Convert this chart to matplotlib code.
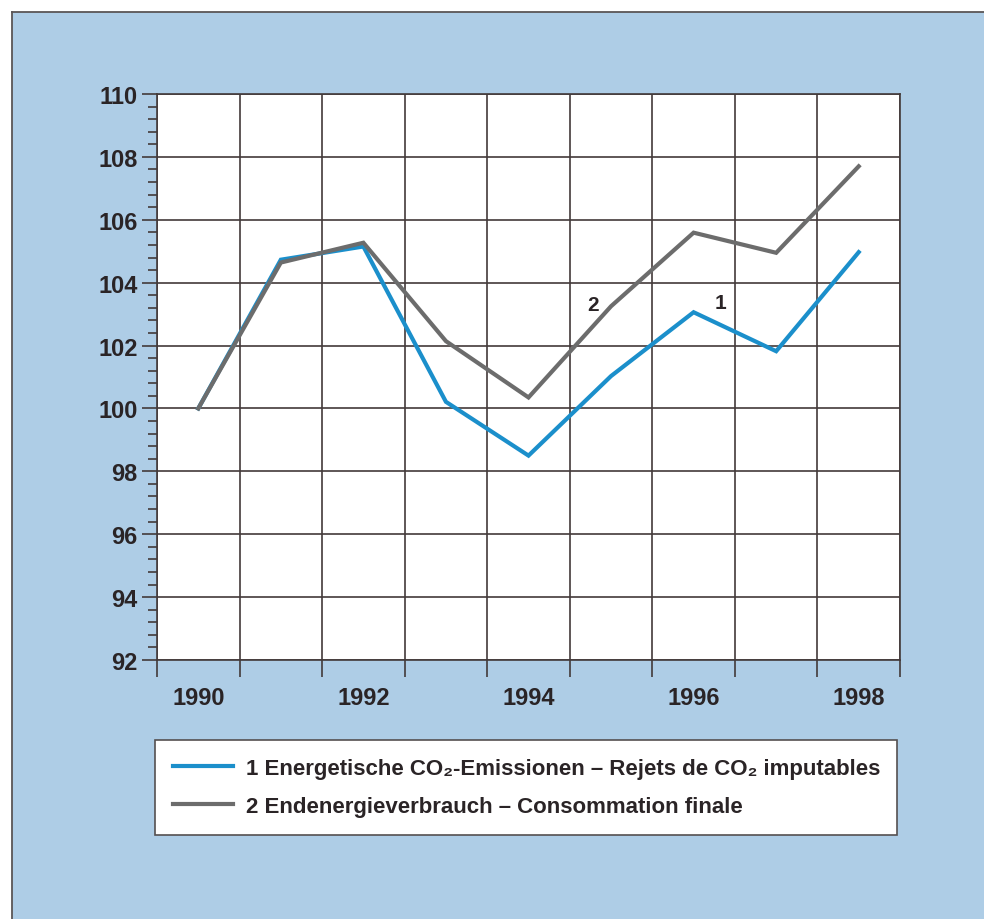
import matplotlib
matplotlib.use("Agg")
import matplotlib.pyplot as plt
from matplotlib.lines import Line2D
from matplotlib.patches import Rectangle
from matplotlib.ticker import FixedLocator, MultipleLocator, NullFormatter

# Data (index 1990 = 100)
years = [1990, 1991, 1992, 1993, 1994, 1995, 1996, 1997, 1998]
co2_emissions = [100.0, 104.73, 105.15, 100.21, 98.50, 101.03, 103.06, 101.82, 104.97]
final_energy = [100.0, 104.64, 105.27, 102.14, 100.35, 103.25, 105.59, 104.95, 107.70]
year_labels = ["1990", "", "1992", "", "1994", "", "1996", "", "1998"]
legend_labels = [
    "1 Energetische CO₂-Emissionen – Rejets de CO₂ imputables",
    "2 Endenergieverbrauch – Consommation finale",
]

BLUE = "#1b8fcb"
GRAY = "#6c6c6c"
GRID = "#433a3a"
TEXT = "#2a2426"
BG = "#aecde6"
FONT = ["Liberation Sans", "DejaVu Sans"]

W, H = 984, 920
fig = plt.figure(figsize=(W / 100, H / 100), dpi=100, facecolor="white")

# blue page background with dark frame on top/left
fig.patches.append(Rectangle((12 / W, 0), 1 - 12 / W, 1 - 13 / H, transform=fig.transFigure,
                             facecolor=BG, edgecolor="none", zorder=-10))
fig.add_artist(Line2D([12 / W, 12 / W], [0, 1 - 13 / H], transform=fig.transFigure, color="#5a5656", lw=1.3))
fig.add_artist(Line2D([12 / W, 1], [1 - 13 / H, 1 - 13 / H], transform=fig.transFigure, color="#5a5656", lw=1.3))

ax = fig.add_axes([157 / W, 1 - 661 / H, (900 - 157) / W, (661 - 95) / H])
ax.set_facecolor("white")

x = list(range(len(years)))
ax.plot(x, co2_emissions, color=BLUE, lw=3.0, solid_joinstyle="miter", zorder=3)
ax.plot(x, final_energy, color=GRAY, lw=3.0, solid_joinstyle="miter", zorder=4)

ax.text(4.78, 103.32, "2", ha="center", va="center", fontsize=15, fontweight="bold", color=TEXT, family=FONT)
ax.text(6.32, 103.38, "1", ha="center", va="center", fontsize=15, fontweight="bold", color=TEXT, family=FONT)

ax.set_xlim(-0.5, len(years) - 0.5)
ax.set_ylim(92, 110)

# x: gridlines/ticks at column borders, labels centred in the columns
ax.xaxis.set_major_locator(FixedLocator([i - 0.5 for i in range(len(years) + 1)]))
ax.xaxis.set_major_formatter(NullFormatter())
ax.xaxis.set_minor_locator(FixedLocator(x))
ax.set_xticklabels(year_labels, minor=True)
ax.tick_params(axis="x", which="major", length=12, width=1.2, color=GRID, direction="out")
ax.tick_params(axis="x", which="minor", length=0, pad=19, labelsize=17, labelcolor=TEXT)

ax.yaxis.set_major_locator(MultipleLocator(2))
ax.yaxis.set_minor_locator(MultipleLocator(0.4))
ax.tick_params(axis="y", which="major", length=11, width=1.2, color=GRID, pad=3, labelsize=17, labelcolor=TEXT)
ax.tick_params(axis="y", which="minor", length=6.5, width=1.2, color=GRID)

for lab in ax.get_xticklabels(minor=True) + ax.get_yticklabels():
    lab.set_fontweight("bold")
    lab.set_family(FONT)

ax.grid(True, which="major", color=GRID, lw=1.2)
ax.set_axisbelow(True)
for sp in ax.spines.values():
    sp.set_color(GRID)
    sp.set_linewidth(1.2)

handles = [Line2D([], [], color=BLUE, lw=3.0), Line2D([], [], color=GRAY, lw=3.0)]
leg = fig.legend(handles, legend_labels, loc="upper left",
                 bbox_to_anchor=(155 / W, 1 - 836 / H, (897 - 155) / W, (836 - 741) / H),
                 bbox_transform=fig.transFigure, mode="expand", borderaxespad=0,
                 prop={"family": FONT, "weight": "bold", "size": 16},
                 handlelength=2.7, handletextpad=0.6, labelspacing=0.77, borderpad=0.8,
                 fancybox=False, framealpha=1, edgecolor="#555050")
leg.get_frame().set_linewidth(1.2)
for t in leg.get_texts():
    t.set_color(TEXT)

fig.savefig("out.png", dpi=100, facecolor=fig.get_facecolor())
